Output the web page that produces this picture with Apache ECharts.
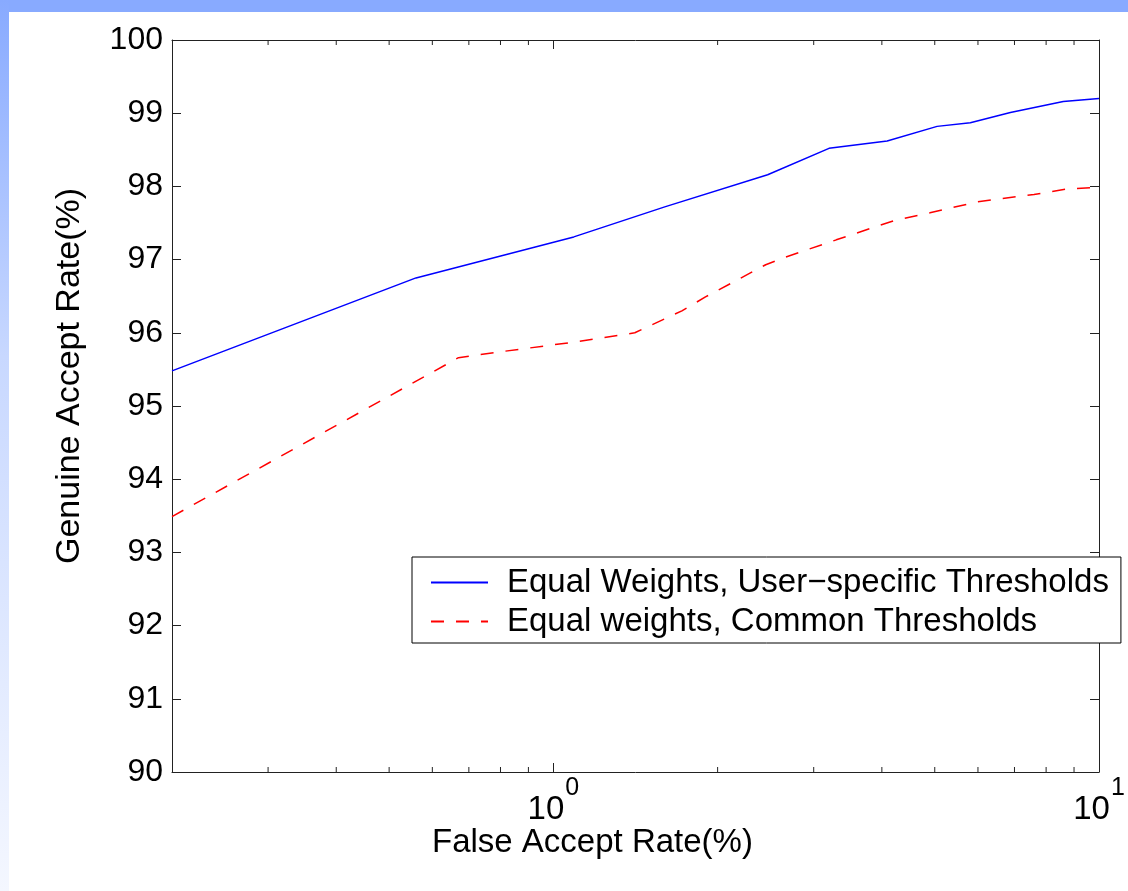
<!DOCTYPE html>
<html>
<head>
<meta charset="utf-8">
<script src="https://cdn.jsdelivr.net/npm/echarts@6/dist/echarts.min.js"></script>
<style>
html,body{margin:0;padding:0;width:1128px;height:891px;background:#ffffff;overflow:hidden;}
#topbar{position:absolute;left:0;top:0;width:1128px;height:12px;background:#88aaff;}
#leftbar{position:absolute;left:0;top:0;width:9px;height:891px;background:linear-gradient(to bottom,#88aaff 0%,#c8d8ff 40%,#f4f7ff 100%);}
#chart{position:absolute;left:0;top:0;width:1128px;height:891px;}
</style>
</head>
<body>
<div id="topbar"></div>
<div id="leftbar"></div>
<div id="chart"></div>
<script>
// ---- data ----
const seriesNames = ['Equal Weights, User\u2212specific Thresholds', 'Equal weights, Common Thresholds'];
const blueX = [0.2, 0.56, 1.09, 1.6, 2.47, 3.2, 4.09, 5.05, 5.81, 6.88, 8.6, 10];
const blueY = [95.48, 96.75, 97.31, 97.72, 98.16, 98.52, 98.62, 98.82, 98.87, 99.01, 99.16, 99.2];
const redX = [0.2, 0.67, 0.78, 1.11, 1.41, 1.72, 1.9, 2.45, 2.63, 3.3, 4.2, 4.9, 6.0, 7.6, 8.67, 10];
const redY = [93.49, 95.66, 95.73, 95.88, 96.0, 96.3, 96.49, 96.93, 97.02, 97.27, 97.53, 97.64, 97.79, 97.89, 97.96, 97.99];
const minorTicks = [0.3, 0.4, 0.5, 0.6, 0.7, 0.8, 0.9, 2, 3, 4, 5, 6, 7, 8, 9];
const xRange = [0.2, 10];
const yRange = [90, 100];
const yInterval = 1;
const xTitle = 'False Accept Rate(%)';
const yTitle = 'Genuine Accept Rate(%)';

const zip = (xs, ys) => xs.map((x, i) => [x, ys[i]]);
const FONT = '"Liberation Sans", Arial, Helvetica, sans-serif';

const chart = echarts.init(document.getElementById('chart'), null, {renderer: 'canvas'});

function expLabel(v) {
  const e = Math.log10(v);
  if (Math.abs(e - Math.round(e)) > 1e-6) return '';
  return '{b|10}{s|' + Math.round(e) + '}';
}

const option = {
  backgroundColor: 'transparent',
  animation: false,
  grid: {left: 172, right: 29, top: 40, bottom: 119, containLabel: false},
  legend: {
    data: seriesNames,
    orient: 'vertical',
    left: 412,
    top: 557,
    backgroundColor: '#ffffff',
    borderColor: '#000000',
    borderWidth: 1,
    borderRadius: 0,
    padding: [9, 12, 5, 18],
    itemWidth: 57,
    itemHeight: 1,
    itemGap: 6,
    itemStyle: {opacity: 0},
    selectedMode: false,
    textStyle: {fontFamily: FONT, fontSize: 33, color: '#000', lineHeight: 33, padding: [0, 0, 0, 14]}
  },
  xAxis: [{
    type: 'log', logBase: 10, min: xRange[0], max: xRange[1], position: 'bottom',
    axisLine: {show: true, onZero: false, lineStyle: {color: '#222', width: 1}},
    axisTick: {show: true, inside: true, length: 9, lineStyle: {color: '#222'}},
    splitLine: {show: false}, minorTick: {show: false},
    axisLabel: {
      show: true, margin: 4, formatter: expLabel, color: '#000',
      rich: {
        b: {fontFamily: FONT, fontSize: 33, color: '#000', verticalAlign: 'bottom', lineHeight: 50},
        s: {fontFamily: FONT, fontSize: 25, color: '#000', verticalAlign: 'top', lineHeight: 50, padding: [0, 0, 0, 1]}
      }
    }
  }, {
    type: 'log', logBase: 10, min: xRange[0], max: xRange[1], position: 'top',
    axisLine: {show: true, onZero: false, lineStyle: {color: '#222', width: 1}},
    axisTick: {show: true, inside: true, length: 9, lineStyle: {color: '#222'}},
    axisLabel: {show: false}, splitLine: {show: false}
  }],
  yAxis: [{
    type: 'value', min: yRange[0], max: yRange[1], interval: yInterval, position: 'left',
    axisLine: {show: true, onZero: false, lineStyle: {color: '#222', width: 1}},
    axisTick: {show: true, inside: true, length: 9, lineStyle: {color: '#222'}},
    splitLine: {show: false},
    axisLabel: {fontFamily: FONT, fontSize: 32, color: '#000', margin: 9}
  }, {
    type: 'value', min: yRange[0], max: yRange[1], interval: yInterval, position: 'right',
    axisLine: {show: true, onZero: false, lineStyle: {color: '#222', width: 1}},
    axisTick: {show: true, inside: true, length: 9, lineStyle: {color: '#222'}},
    splitLine: {show: false}, axisLabel: {show: false}
  }],
  series: [{
    name: seriesNames[0], type: 'line', data: zip(blueX, blueY), xAxisIndex: 0, yAxisIndex: 0,
    symbol: 'none', smooth: false, z: 3,
    lineStyle: {color: '#0000ff', width: 1.5, type: 'solid'},
    itemStyle: {color: '#0000ff'}
  }, {
    name: seriesNames[1], type: 'line', data: zip(redX, redY), xAxisIndex: 0, yAxisIndex: 0,
    symbol: 'none', smooth: false, z: 3,
    lineStyle: {color: '#ff0000', width: 1.5, type: [13, 12]},
    itemStyle: {color: '#ff0000'}
  }, {
    name: 'minorTicks', type: 'custom', xAxisIndex: 0, yAxisIndex: 0, silent: true, z: 2,
    data: minorTicks.map(v => [v, yRange[0]]),
    renderItem: function (params, api) {
      const v = api.value(0);
      const top = api.coord([v, yRange[1]]);
      const bot = api.coord([v, yRange[0]]);
      const st = {stroke: '#222', lineWidth: 1};
      return {
        type: 'group',
        children: [
          {type: 'line', shape: {x1: top[0], y1: top[1], x2: top[0], y2: top[1] + 5}, style: st},
          {type: 'line', shape: {x1: bot[0], y1: bot[1], x2: bot[0], y2: bot[1] - 5}, style: st}
        ]
      };
    }
  }],
  graphic: [{
    type: 'text', left: 432, top: 826,
    style: {text: xTitle, font: '33px ' + FONT, fill: '#000'}
  }, {
    type: 'text', x: 70, y: 376, rotation: Math.PI / 2,
    style: {text: yTitle, font: '34px ' + FONT, fill: '#000', textAlign: 'center', textVerticalAlign: 'middle'}
  }]
};
chart.setOption(option);
</script>
</body>
</html>
